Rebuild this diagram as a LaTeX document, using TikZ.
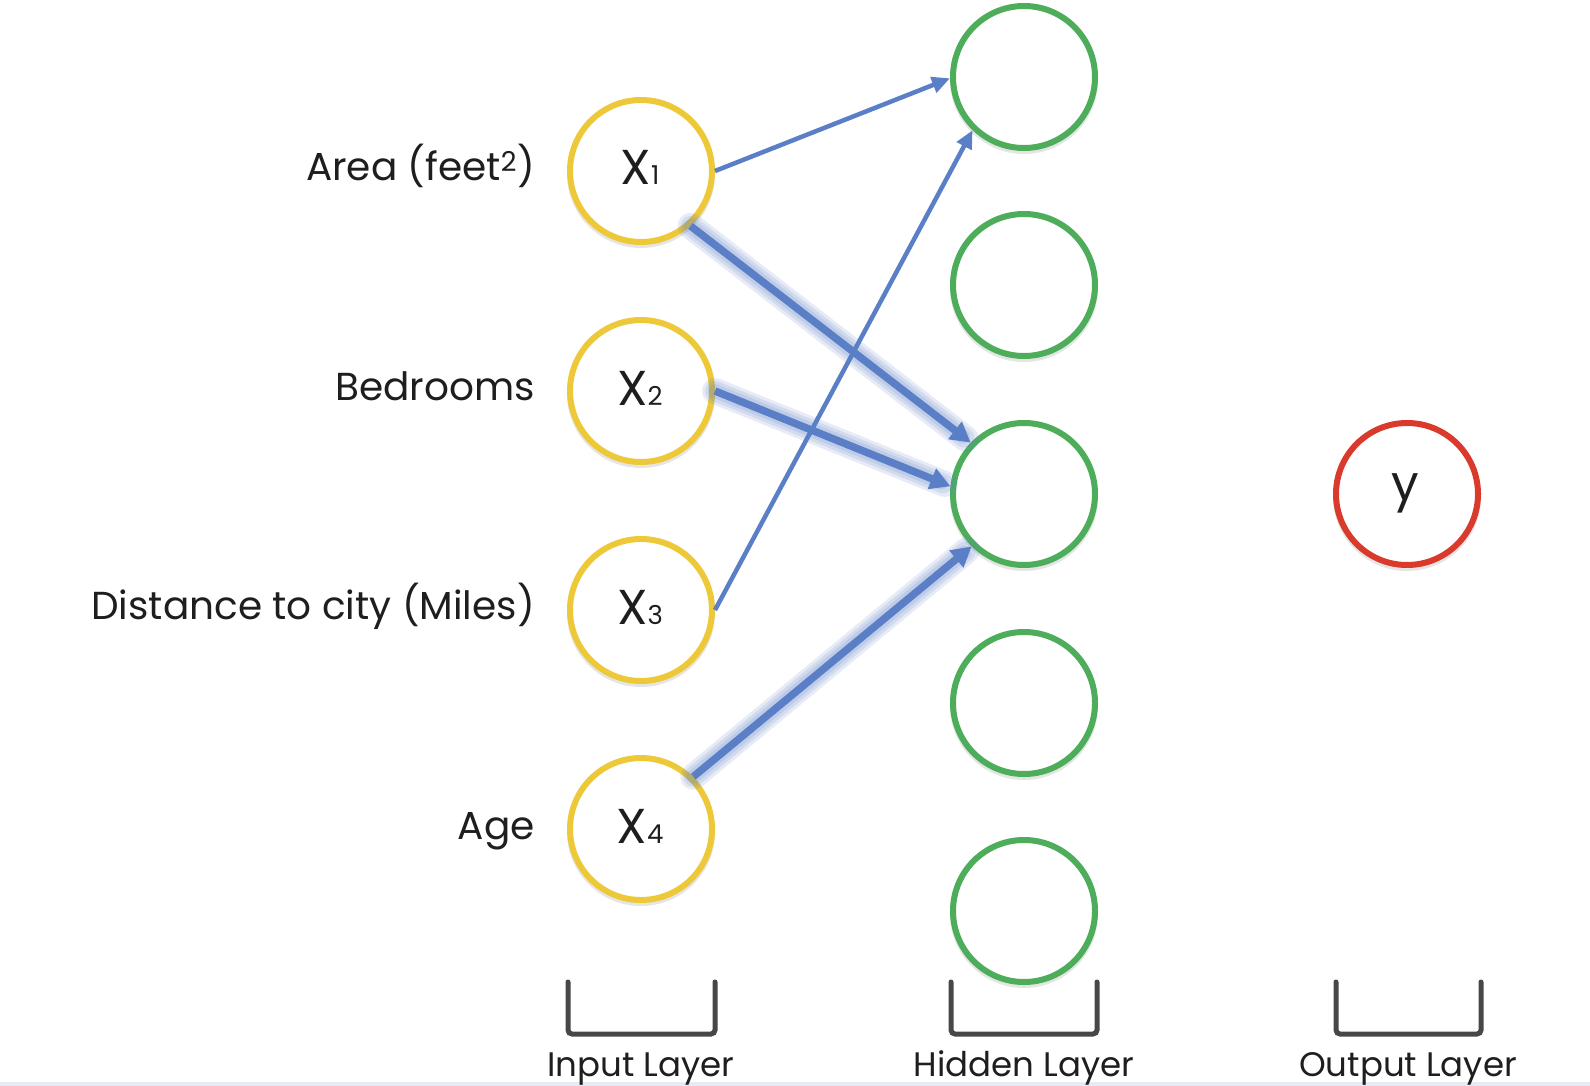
\documentclass[tikz,border=0pt]{standalone}
\usepackage{fontspec}
\setmainfont{Poppins}
\usetikzlibrary{arrows.meta}
\definecolor{inyellow}{HTML}{EDC93A}
\definecolor{hidgreen}{HTML}{4DAD5B}
\definecolor{outred}{HTML}{D93A2B}
\definecolor{arrowblue}{HTML}{5A7FC6}
\definecolor{brackgray}{HTML}{474747}
\definecolor{txt}{HTML}{1E1E1E}
\definecolor{bottomline}{HTML}{E6ECF4}
\begin{document}
\begin{tikzpicture}[x=1pt,y=-1pt,
  neuron/.style={circle, minimum size=142pt, inner sep=0pt, line width=6pt, fill=white,
    preaction={draw=black, opacity=0.10, line width=6pt, transform canvas={yshift=-3pt}}},
  innode/.style={neuron, draw=inyellow},
  hidnode/.style={neuron, draw=hidgreen},
  outnode/.style={neuron, draw=outred},
  nlabel/.style={font=\fontsize{49}{54}\selectfont, text=txt},
  feat/.style={anchor=base east, font=\fontsize{39}{44}\selectfont, text=txt, inner sep=0pt},
  layerlbl/.style={anchor=base, font=\fontsize{34}{40}\selectfont, text=txt, inner sep=0pt},
  thinarrow/.style={draw=arrowblue, line width=4.5pt, -{Triangle[length=18pt,width=16pt]}},
  thickarrow/.style={draw=arrowblue, line width=7.5pt, -{Triangle[length=20pt,width=21pt]}},
  glowline/.style={draw=arrowblue, line width=#1, opacity=0.15, line cap=round},
  brack/.style={draw=brackgray, line width=5pt, rounded corners=4pt, line cap=round}
]
\useasboundingbox (0,0) rectangle (1590,1086);
\fill[white] (0,0) rectangle (1590,1086);
\fill[bottomline] (0,1082) rectangle (1590,1086);

% input layer
\node[innode] (X1) at (641,171) {};
\node[innode] (X2) at (641,391) {};
\node[innode] (X3) at (641,610) {};
\node[innode] (X4) at (641,829) {};
% hidden layer
\node[hidnode] (H1) at (1024,77) {};
\node[hidnode] (H2) at (1024,285) {};
\node[hidnode] (H3) at (1024,494) {};
\node[hidnode] (H4) at (1024,703) {};
\node[hidnode] (H5) at (1024,911) {};
% output
\node[outnode] (Y) at (1407,494) {};

% node texts
\node[nlabel, anchor=base] (tX1) at (640,185) {X{\fontsize{26}{28}\selectfont 1}};
\node[nlabel, anchor=base] (tX2) at (640,405) {X{\fontsize{26}{28}\selectfont 2}};
\node[nlabel, anchor=base] (tX3) at (640,624) {X{\fontsize{26}{28}\selectfont 3}};
\node[nlabel, anchor=base] (tX4) at (640,843) {X{\fontsize{26}{28}\selectfont 4}};
\node[nlabel, anchor=base] (tY) at (1405,500) {y};

% feature labels
\node[feat] (fArea) at (535,181) {Area (feet\textsuperscript{2})};
\node[feat] (fBed) at (535,400) {Bedrooms};
\node[feat] (fDist) at (535,619) {Distance to city (Miles)};
\node[feat] (fAge) at (535,839) {Age};

% thin arrows
\draw[thinarrow] (X1.east) -- (H1.181);
\draw[thinarrow] (X3.east) -- (H1.226);

% thick glowing arrows
\foreach \a/\b in {X1.-48/H3.136, X2.east/H3.174, X4.45/H3.225}{
  \draw[glowline=26pt, shorten >=6pt] (\a) -- (\b);
  \draw[glowline=20pt, shorten >=8pt] (\a) -- (\b);
  \draw[glowline=14pt, shorten >=10pt] (\a) -- (\b);
  \draw[thickarrow] (\a) -- (\b);
}

% brackets
\coordinate (bI1) at (568,982); \coordinate (bI2) at (715,982);
\coordinate (bH1) at (951,982); \coordinate (bH2) at (1097,982);
\coordinate (bO1) at (1336,982); \coordinate (bO2) at (1481,982);
\draw[brack] (bI1) -- ++(0,52) -| (bI2);
\draw[brack] (bH1) -- ++(0,52) -| (bH2);
\draw[brack] (bO1) -- ++(0,52) -| (bO2);

% layer labels
\node[layerlbl] (lIn) at (641,1076) {Input Layer};
\node[layerlbl] (lHid) at (1024,1076) {Hidden Layer};
\node[layerlbl] (lOut) at (1408,1076) {Output Layer};
\end{tikzpicture}
\end{document}
